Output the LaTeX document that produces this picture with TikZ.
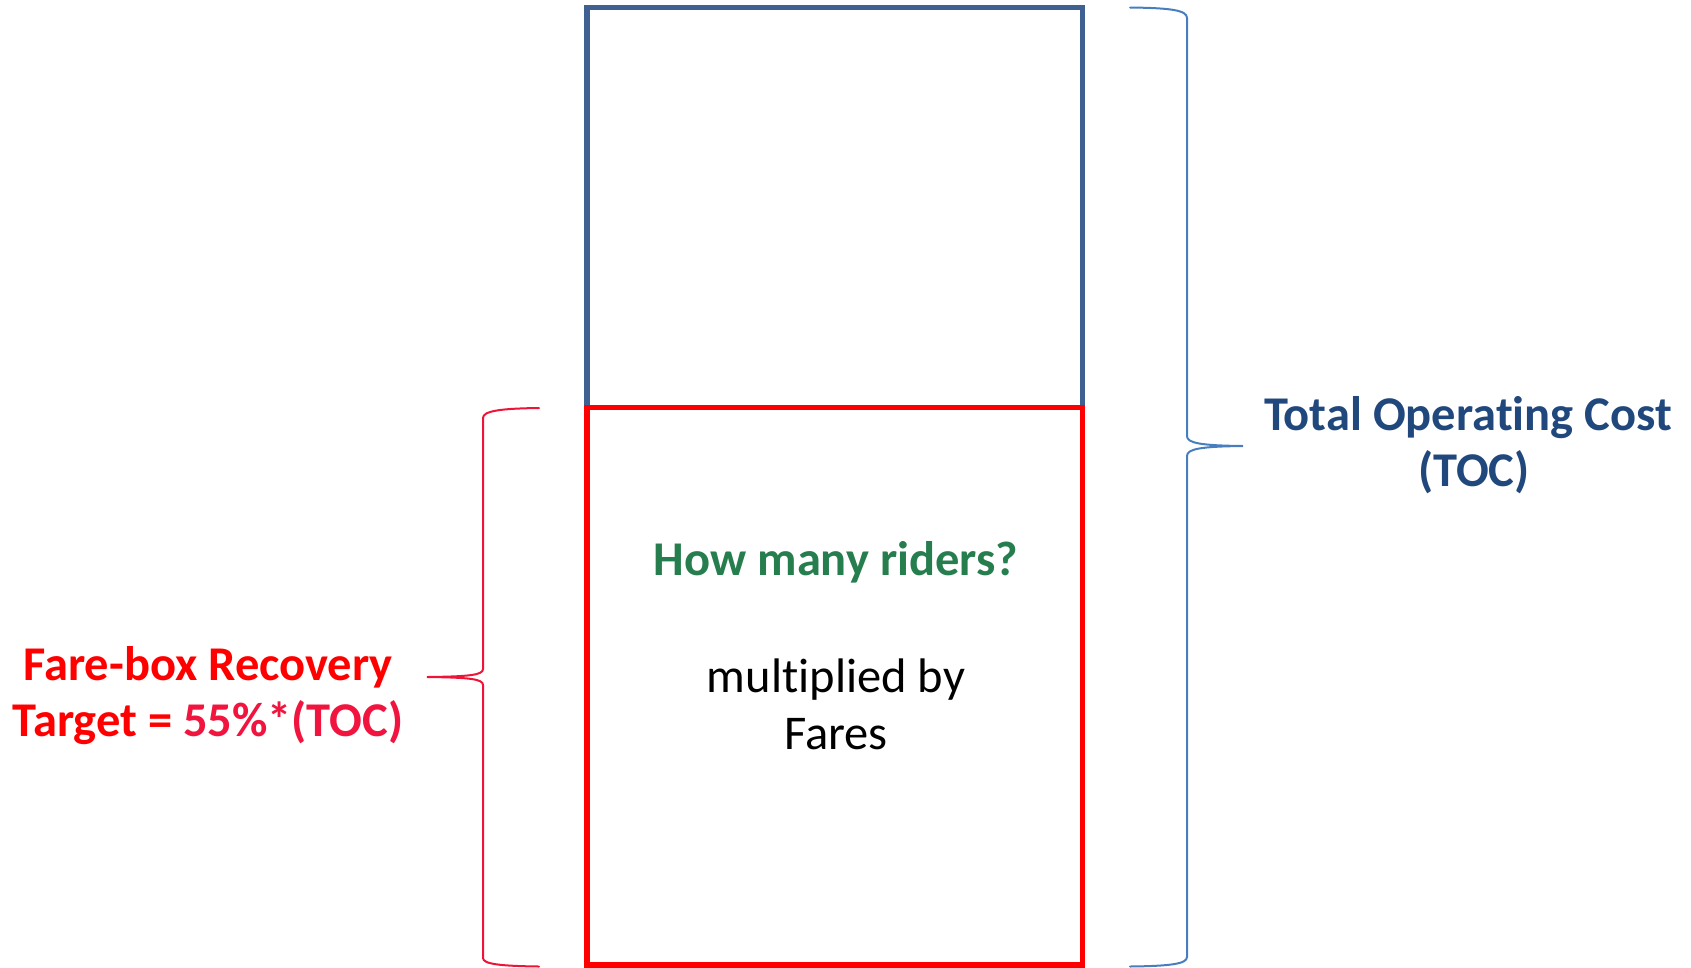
\documentclass[tikz,border=0pt]{standalone}
\usepackage{fontspec}
\setmainfont[Ligatures=CommonOff]{Carlito}
\definecolor{boxblue}{RGB}{62,97,146}
\definecolor{braceblue}{RGB}{72,126,190}
\definecolor{tocblue}{RGB}{33,72,124}
\definecolor{ridergreen}{RGB}{38,125,78}
\definecolor{bracered}{RGB}{238,20,55}
\definecolor{pctred}{RGB}{240,20,62}
\tikzset{
  costbox/.style={draw=boxblue, line width=5.3pt, minimum width=495.7pt, inner sep=0pt},
  farebox/.style={draw=red, line width=5.3pt, minimum width=495.7pt, inner sep=0pt},
  bracepath/.style={line width=2pt, line cap=round},
  biglabel/.style={align=center, font=\fontsize{48.5}{56}\selectfont\bfseries, inner sep=0pt},
  bodylabel/.style={align=center, font=\fontsize{48.5}{57}\selectfont, inner sep=0pt}
}
\begin{document}
\begin{tikzpicture}[x=1pt, y=-1pt]
\useasboundingbox (0,0) rectangle (1691,967);
% stacked cost bar
\node[costbox, minimum height=957.5pt] (toc) at (834.85,486.25) {};
\node[farebox, minimum height=557.3pt] (fare) at (834.85,686.35) {};

% right brace spanning the whole bar
\coordinate (rt) at (1130,7.5);
\coordinate (rtip) at (1243,446);
\coordinate (rb) at (1130,966.5);
\draw[bracepath, braceblue]
  (rt) .. controls (1170,8) and (1187,10) .. (1187,18)
  -- (1187,436) .. controls (1187,443) and (1200,445.5) .. (rtip)
  .. controls (1200,446.5) and (1187,449) .. (1187,456)
  -- (1187,957) .. controls (1187,964) and (1170,966) .. (rb);

% left brace spanning the fare-box part
\coordinate (lt) at (539,408);
\coordinate (ltip) at (427,677);
\coordinate (lb) at (539,966.5);
\draw[bracepath, bracered]
  (lt) .. controls (500,408.5) and (483,411) .. (483,418)
  -- (483,669) .. controls (483,675) and (470,676.5) .. (ltip)
  .. controls (470,677.5) and (483,679) .. (483,685)
  -- (483,958) .. controls (483,964) and (500,966) .. (lb);

% labels
\node[biglabel, text=tocblue] (toclabel) at (1468,445) {Total Operating Cost\\\hspace*{12pt}(TOC)};
\node[biglabel, text=red] (farelabel) at (208,696) {Fare-box Recovery\\Target = \textcolor{pctred}{55\%*(TOC)}};
\node[biglabel, text=ridergreen] (riders) at (836,562) {How many riders?};
\node[bodylabel, text=black] (mult) at (836,704) {multiplied by\\Fares};
\end{tikzpicture}
\end{document}
